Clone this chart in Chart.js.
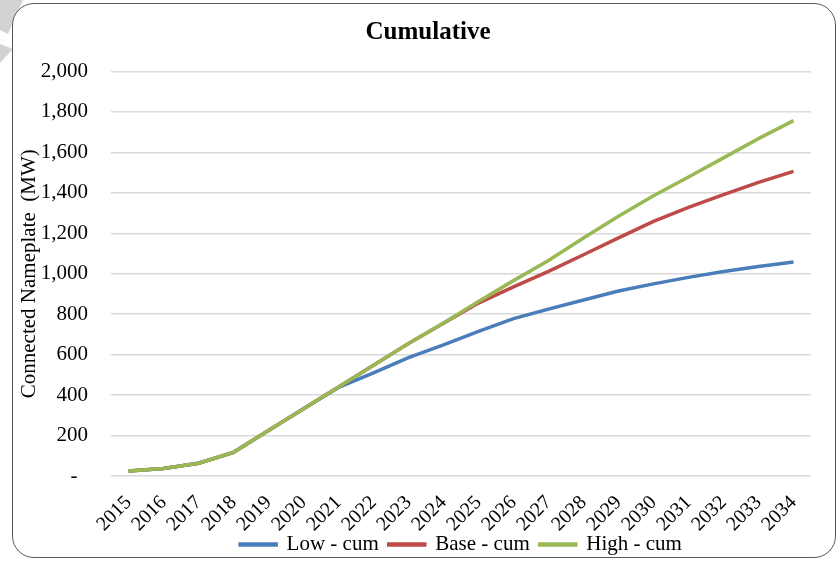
<!DOCTYPE html>
<html>
<head>
<meta charset="utf-8">
<script src="https://cdn.jsdelivr.net/npm/chart.js@4"></script>
<style>
  html, body { margin: 0; padding: 0; background: #fff; }
  #wrap { position: relative; width: 838px; height: 561px; overflow: hidden; background: #fff; }
  .deco { position: absolute; background: #d3d3d3; }
  #decoA { left: 0; top: 0; width: 30px; height: 40px; clip-path: polygon(0 0, 23px 0, 8px 34px, 0 30px); }
  #decoB { left: 0; top: 44px; width: 20px; height: 22px; clip-path: polygon(0 0, 13px 5px, 0 19px); }
  #frame { position: absolute; left: 12px; top: 3px; width: 822px; height: 553px;
           border: 1.5px solid #5a5a5a; border-radius: 22px; background: #fff; }
  canvas { position: absolute; left: 0; top: 0; }
</style>
</head>
<body>
<div id="wrap">
  <div class="deco" id="decoA"></div>
  <div class="deco" id="decoB"></div>
  <div id="frame"></div>
  <canvas id="c" width="838" height="565"></canvas>
</div>
<script>
// Cumulative connected nameplate capacity (MW) by scenario
const years = ['2015','2016','2017','2018','2019','2020','2021','2022','2023','2024',
               '2025','2026','2027','2028','2029','2030','2031','2032','2033','2034'];
const lowCum  = [25, 37, 63, 117, 225, 333, 438, 510, 585, 648, 715, 778, 825, 870, 915, 950, 982, 1011, 1036, 1058];
const baseCum = [25, 37, 63, 117, 225, 333, 440, 548, 655, 755, 855, 935, 1012, 1094, 1177, 1259, 1328, 1391, 1452, 1506];
const highCum = [25, 37, 63, 117, 225, 333, 440, 548, 655, 757, 863, 966, 1066, 1177, 1284, 1386, 1478, 1573, 1668, 1757];
const chartTitle = 'Cumulative';
const yAxisTitle = 'Connected Nameplate  (MW)';

const FONT = 'Liberation Serif';

// High is drawn last so it sits on top; legend is reversed to read Low, Base, High
const datasets = [
  { label: 'High - cum', data: highCum, borderColor: '#98b954', backgroundColor: '#98b954' },
  { label: 'Base - cum', data: baseCum, borderColor: '#be4b48', backgroundColor: '#be4b48' },
  { label: 'Low - cum',  data: lowCum,  borderColor: '#4a7ebb', backgroundColor: '#4a7ebb' }
].map(d => Object.assign(d, { borderWidth: 3.5, pointRadius: 0, tension: 0, fill: false }));

// Heading centred over the framed panel rather than the plot
const headingPlugin = {
  id: 'heading',
  afterDraw(chart) {
    const ctx = chart.ctx;
    ctx.save();
    ctx.font = 'bold 25px "' + FONT + '"';
    ctx.fillStyle = '#000';
    ctx.textAlign = 'center';
    ctx.textBaseline = 'middle';
    ctx.fillText(chartTitle, 428, 33);
    ctx.restore();
  }
};

new Chart(document.getElementById('c'), {
  type: 'line',
  data: { labels: years, datasets },
  plugins: [headingPlugin],
  options: {
    responsive: false,
    animation: false,
    layout: { padding: { left: 12, right: 27, top: 71.5, bottom: 0 } },
    plugins: {
      title: { display: false },
      legend: {
        position: 'bottom',
        fullSize: false,
        reverse: true,
        labels: {
          color: '#000',
          font: { family: FONT, size: 21 },
          boxWidth: 36,
          boxHeight: 1,
          padding: 10
        }
      },
      tooltip: { enabled: false }
    },
    scales: {
      x: {
        offset: true,
        grid: { display: false },
        border: { display: false },
        ticks: {
          color: '#000',
          font: { family: FONT, size: 20 },
          minRotation: 45,
          maxRotation: 45,
          autoSkip: false,
          padding: 7
        },
        afterFit: s => {
          s.height = 48;
          // slanted year labels reach down beside the legend; don't clip them to the axis box
          s._computeLabelArea = () => undefined;
        }
      },
      y: {
        min: 0,
        max: 2000,
        grid: { color: '#d9d9d9', lineWidth: 1.5, drawTicks: false },
        border: { display: false },
        ticks: {
          stepSize: 200,
          color: '#000',
          font: { family: FONT, size: 21 },
          padding: 23,
          callback: v => v === 0 ? '-  ' : v.toLocaleString('en-US')
        },
        title: {
          display: true,
          text: yAxisTitle,
          color: '#000',
          font: { family: FONT, size: 21 },
          padding: { top: 5, bottom: 0 }
        },
        afterFit: s => { s.width = 99; }
      }
    }
  }
});
</script>
</body>
</html>
